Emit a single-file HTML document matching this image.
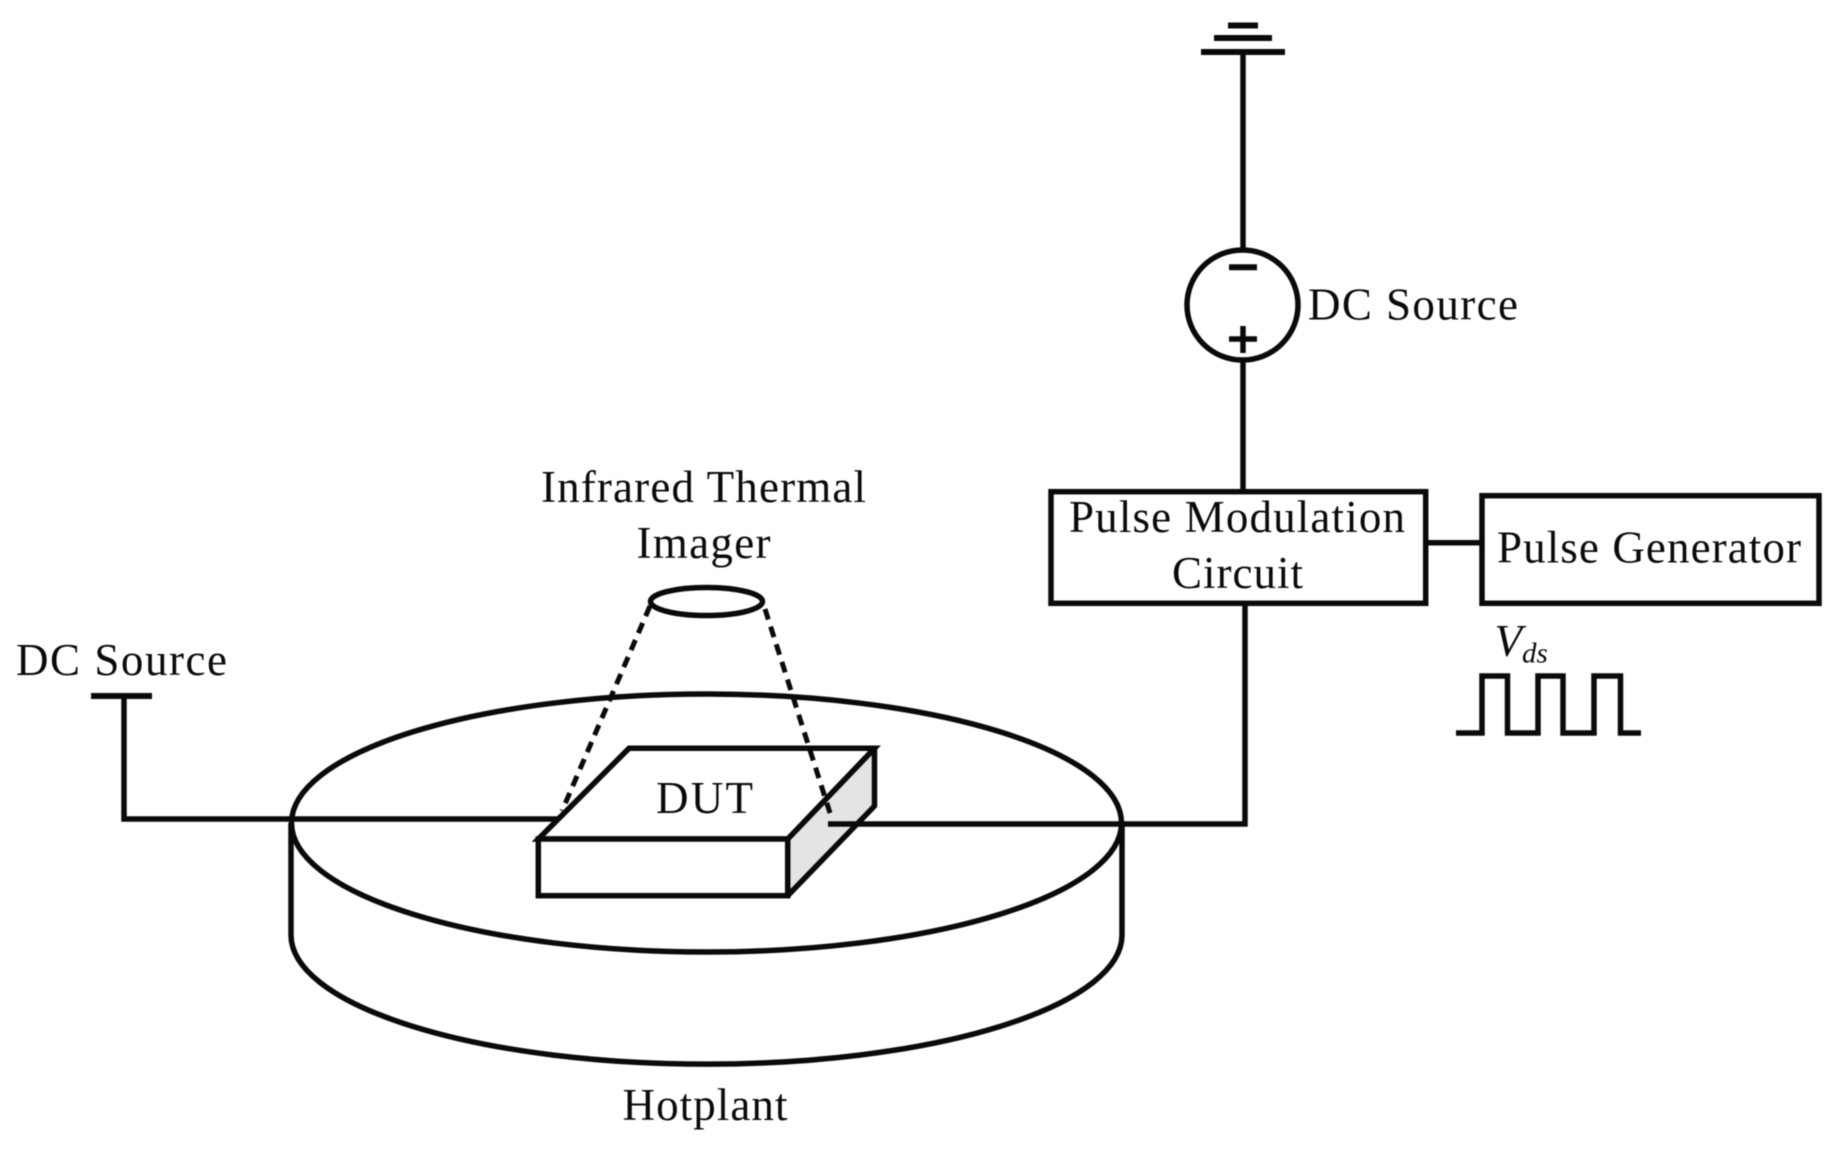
<!DOCTYPE html>
<html>
<head>
<meta charset="utf-8">
<style>
html,body{margin:0;padding:0;background:#fff;}
svg{display:block;}
text{font-family:"Liberation Serif",serif;fill:#0a0a0a;font-size:45px;}
.s{filter:blur(0.55px);}
</style>
</head>
<body>
<svg width="1846" height="1151" viewBox="0 0 1846 1151" xmlns="http://www.w3.org/2000/svg">
<rect width="1846" height="1151" fill="#fff"/>
<g class="s">
<g fill="none" stroke="#0a0a0a" stroke-width="5.5">
  <!-- hotplant -->
  <path d="M291 823 V935 A415 129 0 0 0 1122 935 V823" fill="#fff"/>
  <ellipse cx="706.5" cy="823" rx="415" ry="129" fill="#fff"/>
  <!-- left source wire -->
  <path d="M91 696 H152" stroke-width="6"/>
  <path d="M124 696 V819 H560"/>
  <!-- DUT -->
  <path d="M874.5 748.3 V806 L787.7 895.7 V839 Z" fill="#e4e4e4" stroke-linejoin="round"/>
  <path d="M629 748.3 H874.5 L787.7 839 H538.3 Z" fill="#fff"/>
  <rect x="538.3" y="839" width="249.4" height="56.7" fill="#fff"/>
  <!-- right wire -->
  <path d="M828 824 H1245 V603"/>
  <!-- imager -->
  <ellipse cx="706.5" cy="601.5" rx="56" ry="14" fill="#fff"/>
  <path d="M650 606 L562 811" stroke-width="5" stroke-dasharray="11 7.5"/>
  <path d="M765 609 L830 813" stroke-width="5" stroke-dasharray="11 7.5"/>
  <!-- ground -->
  <path d="M1201 52 H1285 M1214 38 H1272 M1228 25.5 H1258" stroke-width="6"/>
  <path d="M1243 52 V250 M1243 360 V491"/>
  <!-- source -->
  <ellipse cx="1242.5" cy="305" rx="55.5" ry="55" fill="#fff"/>
  <path d="M1229 267.3 H1257" stroke-width="6"/>
  <path d="M1229 339 H1257 M1243 326 V353" stroke-width="5.5"/>
  <!-- boxes -->
  <rect x="1051" y="491.7" width="374.7" height="111.6" fill="#fff"/>
  <rect x="1482" y="495.7" width="337" height="107.6" fill="#fff"/>
  <path d="M1426 542.7 H1482"/>
  <!-- pulse -->
  <path d="M1456 733 H1482 V676 H1507.5 V733 H1538 V676 H1563 V733 H1594 V676 H1620.5 V733 H1641"/>
</g>
<text x="16" y="675" textLength="211" lengthAdjust="spacing">DC Source</text>
<text x="1308" y="319.5" textLength="210" lengthAdjust="spacing">DC Source</text>
<text x="541" y="502" textLength="325" lengthAdjust="spacing">Infrared Thermal</text>
<text x="636.5" y="558" textLength="134" lengthAdjust="spacing">Imager</text>
<text x="656" y="813" textLength="97" lengthAdjust="spacing">DUT</text>
<text x="622.5" y="1120" textLength="165" lengthAdjust="spacing">Hotplant</text>
<text x="1069" y="532" textLength="336" lengthAdjust="spacing">Pulse Modulation</text>
<text x="1172" y="588" textLength="131" lengthAdjust="spacing">Circuit</text>
<text x="1497" y="562.5" textLength="304" lengthAdjust="spacing">Pulse Generator</text>
<text x="1494.5" y="656" style="font-style:italic;font-size:45px">V</text>
<text x="1522" y="662.5" style="font-style:italic;font-size:29px">ds</text>
</g>
</svg>
</body>
</html>
